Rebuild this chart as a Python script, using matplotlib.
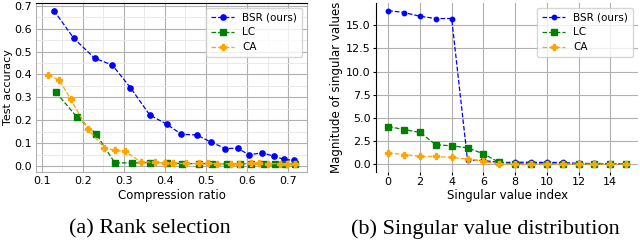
import numpy as np
import matplotlib
matplotlib.use('Agg')
import matplotlib.pyplot as plt
from matplotlib.ticker import AutoMinorLocator

# (a) rank selection data
bsr_ratio = [0.130, 0.178, 0.229, 0.272, 0.316, 0.363, 0.404, 0.440, 0.477, 0.512,
             0.547, 0.577, 0.604, 0.637, 0.666, 0.690, 0.714]
bsr_acc = [0.678, 0.558, 0.471, 0.441, 0.343, 0.224, 0.184, 0.140, 0.137, 0.106,
           0.078, 0.079, 0.051, 0.059, 0.044, 0.031, 0.026]

lc_ratio = [0.135, 0.185, 0.232, 0.278, 0.319, 0.364, 0.404, 0.441, 0.482, 0.514,
            0.551, 0.583, 0.609, 0.640, 0.667, 0.693, 0.716]
lc_acc = [0.322, 0.217, 0.143, 0.016, 0.015, 0.017, 0.017, 0.012, 0.012, 0.012,
          0.011, 0.011, 0.012, 0.011, 0.010, 0.010, 0.011]

ca_ratio = [0.116, 0.143, 0.171, 0.212, 0.252, 0.278, 0.302, 0.341, 0.375, 0.400,
            0.420, 0.451, 0.484, 0.504, 0.527, 0.561, 0.579, 0.609, 0.628, 0.651,
            0.681, 0.698, 0.716]
ca_acc = [0.397, 0.376, 0.292, 0.163, 0.082, 0.070, 0.067, 0.020, 0.018, 0.015,
          0.013, 0.013, 0.013, 0.013, 0.012, 0.012, 0.012, 0.014, 0.014, 0.012,
          0.012, 0.012, 0.012]

# (b) singular value distribution data
sv_index = list(range(16))
bsr_sv = [16.58, 16.37, 15.97, 15.72, 15.72, 0.43, 0.40, 0.18, 0.20, 0.20,
          0.18, 0.18, 0.08, 0.07, 0.05, 0.02]
lc_sv = [4.06, 3.74, 3.42, 2.09, 1.98, 1.76, 1.12, 0.18, 0.05, 0.04,
         0.03, 0.03, 0.02, 0.02, 0.02, 0.02]
ca_sv = [1.19, 1.04, 0.83, 0.83, 0.72, 0.54, 0.29, 0.0, 0.0, 0.0,
         0.0, 0.0, 0.0, 0.0, 0.0, 0.0]

labels = ['BSR (ours)', 'LC', 'CA']

tick_fs = 8
label_fs = 8.5
leg_fs = 7.5
fig = plt.figure(figsize=(6.4, 2.42), dpi=100)
ax1 = fig.add_axes([0.056, 0.290, 0.424, 0.698])
ax2 = fig.add_axes([0.588, 0.290, 0.409, 0.698])

# left plot
ax1.plot(bsr_ratio, bsr_acc, '--o', color='blue', lw=0.9, ms=3.8, label=labels[0])
ax1.plot(lc_ratio, lc_acc, '--s', color='green', lw=0.9, ms=4.3, label=labels[1])
ax1.plot(ca_ratio, ca_acc, '--P', color='orange', lw=0.9, ms=4.6, label=labels[2])
ax1.set_xticks(np.arange(0.1, 0.71, 0.1))
ax1.set_yticks(np.arange(0.0, 0.71, 0.1))
ax1.xaxis.set_minor_locator(AutoMinorLocator(2))
ax1.yaxis.set_minor_locator(AutoMinorLocator(2))
ax1.grid(which='major', color='#b0b0b0', lw=0.8)
ax1.grid(which='minor', color='#e6e6e6', lw=0.6)
ax1.tick_params(which='minor', length=0)
ax1.tick_params(which='major', labelsize=tick_fs, length=0, pad=3)
ax1.set_axisbelow(True)
for s in ['left', 'right', 'bottom']:
    ax1.spines[s].set_color('#b0b0b0')
ax1.spines['top'].set_color('black')
ax1.set_xlabel('Compression ratio', fontsize=label_fs, labelpad=2.5)
ax1.set_ylabel('Test accuracy', fontsize=8)
ax1.yaxis.set_label_coords(-0.085, 0.5)
ax1.legend(loc='upper right', fontsize=leg_fs, handlelength=2.2, borderpad=0.45,
           labelspacing=0.45, fancybox=True)

# right plot
ax2.plot(sv_index, bsr_sv, '--o', color='blue', lw=0.9, ms=3.2, label=labels[0])
ax2.plot(sv_index, lc_sv, '--s', color='green', lw=0.9, ms=3.9, label=labels[1])
ax2.plot(sv_index, ca_sv, '--P', color='orange', lw=0.9, ms=4.4, label=labels[2])
ax2.set_xticks(range(0, 15, 2))
ax2.set_yticks(np.arange(0, 15.1, 2.5))
ax2.grid(color='#b0b0b0', lw=0.8)
ax2.set_axisbelow(True)
for s in ['top', 'right', 'bottom']:
    ax2.spines[s].set_visible(False)
ax2.tick_params(labelsize=tick_fs, length=2.5, pad=1.5)
ax2.set_xlabel('Singular value index', fontsize=label_fs, labelpad=1)
ax2.set_ylabel('Magnitude of singular values', fontsize=label_fs)
ax2.yaxis.set_label_coords(-0.128, 0.5)
ax2.legend(loc='upper right', fontsize=leg_fs, handlelength=2.2, borderpad=0.45,
           labelspacing=0.45, fancybox=True)

fig.text(0.234, 0.054, '(a) Rank selection', ha='center', va='center',
         fontsize=16, family='Liberation Serif')
fig.text(0.759, 0.054, '(b) Singular value distribution', ha='center', va='center',
         fontsize=16, family='Liberation Serif')

fig.savefig('out.png', dpi=100)
